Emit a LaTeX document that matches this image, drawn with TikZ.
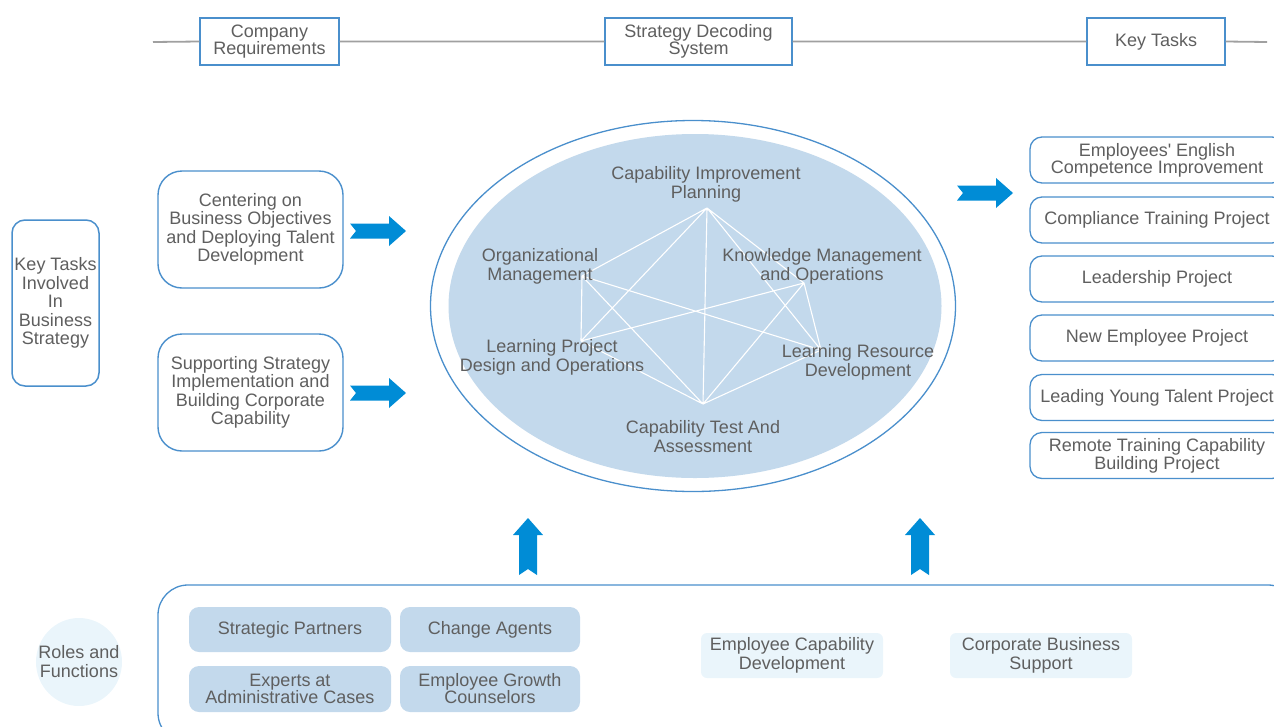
\documentclass[tikz,border=0pt]{standalone}
\usepackage{fontspec}
\setmainfont{Liberation Sans}
\usetikzlibrary{shapes.geometric}
\definecolor{boxblue}{RGB}{74,143,204}
\definecolor{arrowblue}{RGB}{0,140,214}
\definecolor{fillblue}{RGB}{195,217,236}
\definecolor{palefill}{RGB}{234,245,251}
\definecolor{textgray}{RGB}{95,95,95}
\definecolor{guidegray}{RGB}{160,160,160}
\begin{document}
\begin{tikzpicture}[x=1pt,y=-1pt,
  every node/.style={text=textgray, inner sep=0pt, align=center},
  lead/.style={font=\fontsize{18}{#1}\selectfont},
  topbox/.style={draw=boxblue, line width=1.3pt, fill=white, minimum height=47pt, lead=15},
  guide/.style={draw=guidegray, line width=1.8pt},
  taskbox/.style={draw=boxblue, line width=1.4pt, fill=white, rounded corners=24pt, minimum width=185pt, minimum height=117pt, lead=18.5},
  sidebox/.style={draw=boxblue, line width=1.5pt, fill=white, rounded corners=13pt, minimum width=87pt, minimum height=166pt, lead=18.5},
  projbox/.style={draw=boxblue, line width=1.3pt, fill=white, rounded corners=12pt, minimum width=254pt, minimum height=46pt, lead=15},
  ringtext/.style={lead=19},
  web/.style={draw=white, line width=1.1pt},
  rolebox/.style={fill=fillblue, rounded corners=10pt, minimum height=45pt, lead=17},
  palebox/.style={fill=palefill, rounded corners=6pt, minimum width=182pt, minimum height=45pt, lead=19},
  fatarrow/.pic={\fill[arrowblue] (0,-7.5) -- (39,-7.5) -- (39,-15) -- (56,0) -- (39,15) -- (39,7.5) -- (0,7.5) -- (6,0) -- cycle;},
  uparrow/.pic={\fill[arrowblue] (-9,0) -- (-9,-40) -- (-15,-40) -- (0,-57) -- (15,-40) -- (9,-40) -- (9,0) -- (0,-6) -- cycle;}
]
\useasboundingbox (0,0) rectangle (1274,726);
\clip (0,0) rectangle (1274,726);

% header row
\coordinate (guideL) at (153,42);
\coordinate (guideR) at (1267,42);
\node[topbox, minimum width=139pt] (creq) at (269.5,41.5) {Company\\Requirements};
\node[topbox, minimum width=187pt] (sds) at (698.5,41.5) {Strategy Decoding\\System};
\node[topbox, minimum width=138pt] (kt) at (1156,41.5) {Key Tasks};
\draw[guide] (guideL) -- (creq.west) (creq.east) -- (sds.west) (sds.east) -- (kt.west) (kt.east) -- (guideR);

% left column
\node[sidebox] (ktbs) at (55.5,303) {Key Tasks\\Involved\\In\\Business\\Strategy};
\node[taskbox] (center) at (250.5,229.5) {Centering on\\Business Objectives\\and Deploying Talent\\Development};
\node[taskbox] (support) at (250.5,392.5) {Supporting Strategy\\Implementation and\\Building Corporate\\Capability};
\pic at (350,231) {fatarrow};
\pic at (350,393) {fatarrow};

% decoding system ring
\node[ellipse, draw=boxblue, line width=1.3pt, fill=white, minimum width=525pt, minimum height=371pt] (ring) at (693,306) {};
\node[ellipse, fill=fillblue, minimum width=493pt, minimum height=344pt] (core) at (695,306) {};

\coordinate (vA) at (707,208);
\coordinate (vB) at (582,276);
\coordinate (vC) at (804,283);
\coordinate (vD) at (581,341);
\coordinate (vE) at (821,350);
\coordinate (vF) at (703,404);
\draw[web] (vA) -- (vB) (vA) -- (vC) (vA) -- (vD) (vA) -- (vE) (vA) -- (vF)
  (vB) -- (vD) (vB) -- (vE) (vB) -- (vF)
  (vC) -- (vD) (vC) -- (vE) (vC) -- (vF)
  (vD) -- (vF) (vE) -- (vF);

\node[ringtext] (cip) at (706,184.5) {Capability Improvement\\Planning};
\node[ringtext] (org) at (540,266.5) {Organizational\\Management};
\node[ringtext] (kmo) at (822,266.5) {Knowledge Management\\and Operations};
\node[ringtext] (lpd) at (552,357) {Learning Project\\Design and Operations};
\node[ringtext] (lrd) at (858,362) {Learning Resource\\Development};
\node[ringtext] (cta) at (703,437) {Capability Test And\\Assessment};

% key task projects
\pic at (957,193) {fatarrow};
\node[projbox] (p1) at (1157,160) {Employees\textquotesingle\ English\\Competence Improvement};
\node[projbox] (p2) at (1157,220) {Compliance Training Project};
\node[projbox] (p3) at (1157,279) {Leadership Project};
\node[projbox] (p4) at (1157,338) {New Employee Project};
\node[projbox] (p5) at (1157,397.5) {Leading Young Talent Project};
\node[projbox] (p6) at (1157,455.5) {Remote Training Capability\\Building Project};

% roles and functions
\pic at (528,575) {uparrow};
\pic at (920,575) {uparrow};
\node[draw=boxblue, line width=1.3pt, rounded corners=30pt, minimum width=1140pt, minimum height=158pt] (frame) at (728,664) {};
\node[ellipse, fill=palefill, minimum width=86pt, minimum height=88pt] (roles) at (79,662) {};
\node[lead=19] (rolestext) at (roles) {Roles and\\Functions};
\node[rolebox, minimum width=202pt] (sp) at (290,629.5) {Strategic Partners};
\node[rolebox, minimum width=180pt] (ca) at (490,629.5) {Change Agents};
\node[rolebox, minimum width=202pt, minimum height=46pt] (ea) at (290,689) {Experts at\\Administrative Cases};
\node[rolebox, minimum width=180pt, minimum height=46pt] (eg) at (490,689) {Employee Growth\\Counselors};
\node[palebox] (ecd) at (792,655.5) {Employee Capability\\Development};
\node[palebox] (cbs) at (1041,655.5) {Corporate Business\\Support};
\end{tikzpicture}
\end{document}
